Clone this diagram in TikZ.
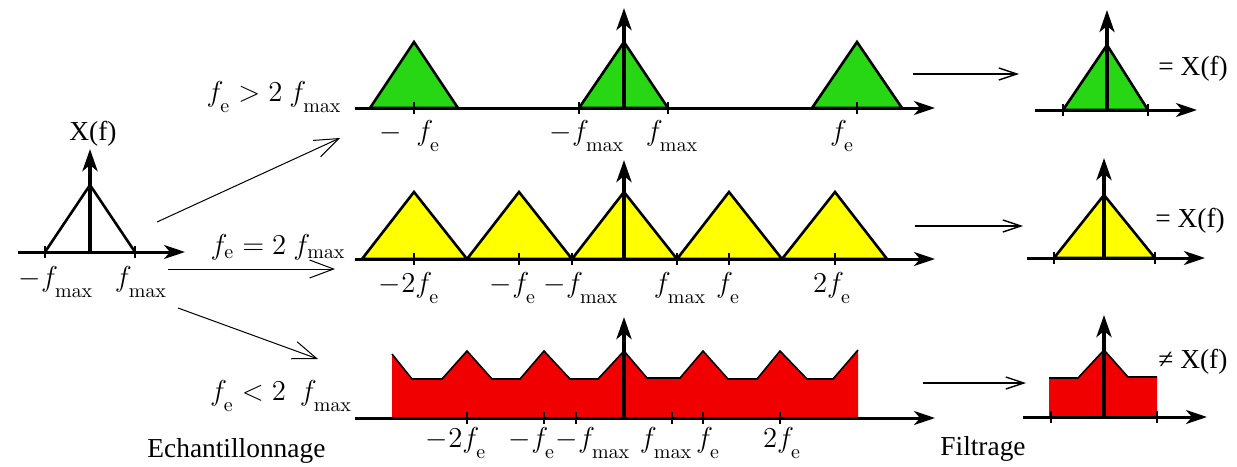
\documentclass[tikz,border=0pt]{standalone}
\usepackage[no-math]{fontspec}
\setmainfont{Liberation Serif}
\usepackage{amsmath}
\usetikzlibrary{arrows.meta}
\definecolor{vert}{RGB}{40,215,20}
\definecolor{jaune}{RGB}{255,255,0}
\definecolor{rouge}{RGB}{240,0,0}
\newcommand{\fs}[1]{f_{\raisebox{-0.25em}{$\scriptstyle\mathrm{#1}$}}}
\newcommand{\fn}[1]{f_{\mathrm{#1}}}
\tikzset{
  axe/.style={line width=1.5pt, arrows={-Stealth[length=10.5pt, width=7pt, inset=3pt]}},
  ordonnee/.style={line width=2.2pt, arrows={-Stealth[length=11pt, width=7.5pt, inset=3pt]}},
  spectre/.style={line width=1.3pt, line join=miter},
  bord/.style={line width=0.8pt},
  graduation/.style={line width=0.8pt},
  echant/.style={line width=0.5pt, arrows={-Straight Barb[length=12pt, width=9pt]}},
  filtre/.style={line width=0.7pt, arrows={-Straight Barb[length=9pt, width=6pt]}},
  lbl/.style={anchor=base, inner sep=0pt, font=\fontsize{14}{16}\selectfont},
  cond/.style={anchor=base, inner sep=0pt, font=\fontsize{14}{16}\selectfont},
  txt/.style={anchor=base, inner sep=0pt, font=\fontsize{13.7}{16}\selectfont}
}
\begin{document}
\begin{tikzpicture}[x=0.5pt, y=-0.5pt]
\useasboundingbox (0,0) rectangle (1237,466);

\draw[spectre] (45,252) -- (90,185) -- (135,252);
\draw[axe] (18,252) -- (185,252);
\draw[ordonnee, line width=2pt] (90,254) -- (90,149);
\draw[graduation] (45,246) -- (45,258) (135,246) -- (135,258);
\node[txt] (xf) at (93,140) {X(f)};
\node[lbl] (l01) at (56,286) {$-\fs{max}$};
\node[lbl] (l02) at (141,286) {$\fs{max}$};

\filldraw[spectre, fill=vert] (370,108) -- (414,42) -- (458,108) -- cycle;
\filldraw[spectre, fill=vert] (579,108) -- (624,42) -- (668,108) -- cycle;
\filldraw[spectre, fill=vert] (812,108) -- (857,42) -- (902,108) -- cycle;
\draw[axe] (355,108) -- (935,108);
\draw[graduation] (414,102) -- (414,114) (579,102) -- (579,114) (668,102) -- (668,114) (857,102) -- (857,114);
\draw[ordonnee] (624,110) -- (624,8);
\node[cond] (c1) at (274,101) {$\fs{e} > 2\ \fs{max}$};
\node[lbl] (l11) at (410,140) {$-\enskip\fs{e}$};
\node[lbl] (l12) at (587,140) {$-\fs{max}$};
\node[lbl] (l13) at (672,140) {$\fs{max}$};
\node[lbl] (l14) at (842,140) {$\fs{e}$};

\filldraw[spectre, fill=jaune] (362,259) -- (414,192) -- (467,259) -- cycle;
\filldraw[spectre, fill=jaune] (467,259) -- (519,192) -- (572,259) -- cycle;
\filldraw[spectre, fill=jaune] (572,259) -- (624,192) -- (677,259) -- cycle;
\filldraw[spectre, fill=jaune] (677,259) -- (729,192) -- (782,259) -- cycle;
\filldraw[spectre, fill=jaune] (782,259) -- (835,192) -- (887,259) -- cycle;
\draw[axe] (355,259) -- (935,259);
\draw[graduation] (414,253) -- (414,265) (519,253) -- (519,265) (572,253) -- (572,265) (677,253) -- (677,265) (729,253) -- (729,265) (835,253) -- (835,265);
\draw[ordonnee] (624,261) -- (624,160);
\node[cond] (c2) at (278,254) {$\fn{e} = 2\ \fn{max}$};
\node[lbl] (l21) at (409,292) {$-2\fs{e}$};
\node[lbl] (l22) at (513,292) {$-\fs{e}$};
\node[lbl] (l23) at (581,292) {$-\fs{max}$};
\node[lbl] (l24) at (680,292) {$\fs{max}$};
\node[lbl] (l25) at (728,292) {$\fs{e}$};
\node[lbl] (l26) at (832,292) {$2\fs{e}$};

\fill[rouge] (392,418) -- (392,354) -- (412,379) -- (442,379) -- (467,351) -- (492,379) -- (520,379) -- (544,351) -- (570,379) -- (598,379) -- (624,351) -- (647,378) -- (680,378) -- (703,351) -- (728,379) -- (757,379) -- (780,351) -- (807,379) -- (833,379) -- (858,350) -- (858,418) -- cycle;
\draw[bord] (392,354) -- (412,379) -- (442,379) -- (467,351) -- (492,379) -- (520,379) -- (544,351) -- (570,379) -- (598,379) -- (624,351) -- (647,378) -- (680,378) -- (703,351) -- (728,379) -- (757,379) -- (780,351) -- (807,379) -- (833,379) -- (858,350);
\draw[axe] (355,418) -- (935,418);
\draw[graduation] (467,412) -- (467,424) (544,412) -- (544,424) (576,412) -- (576,424) (672,412) -- (672,424) (703,412) -- (703,424) (780,412) -- (780,424);
\draw[ordonnee] (624,420) -- (624,317);
\node[cond] (c3) at (281,400) {$\fs{e} < 2\ \ \fs{max}$};
\node[lbl] (l31) at (456,447) {$-2\fs{e}$};
\node[lbl] (l32) at (532,447) {$-\fs{e}$};
\node[lbl] (l33) at (593,447) {$-\fs{max}$};
\node[lbl] (l34) at (666,447) {$\fs{max}$};
\node[lbl] (l35) at (708,447) {$\fs{e}$};
\node[lbl] (l36) at (782,447) {$2\fs{e}$};

\filldraw[spectre, fill=vert] (1063,110) -- (1107,45) -- (1148,110) -- cycle;
\draw[axe] (1035,110) -- (1197,110);
\draw[graduation] (1063,104) -- (1063,116) (1148,104) -- (1148,116);
\draw[ordonnee, line width=1.8pt] (1107,112) -- (1107,10);
\node[txt, anchor=base west] (r1) at (1158,75) {= X(f)};

\filldraw[spectre, fill=jaune] (1054,258) -- (1104,195) -- (1155,258) -- cycle;
\draw[axe] (1027,258) -- (1205,258);
\draw[graduation] (1054,252) -- (1054,264) (1155,252) -- (1155,264);
\draw[ordonnee] (1104,260) -- (1104,158);
\node[txt, anchor=base west] (r2) at (1155,227) {= X(f)};

\fill[rouge] (1049,417) -- (1049,378) -- (1078,378) -- (1104,350) -- (1128,377) -- (1157,377) -- (1157,417) -- cycle;
\draw[bord] (1049,378) -- (1078,378) -- (1104,350) -- (1128,377) -- (1157,377);
\draw[axe] (1023,417) -- (1207,417);
\draw[graduation] (1051,411) -- (1051,423) (1157,411) -- (1157,423);
\draw[ordonnee] (1104,419) -- (1104,315);
\node[txt, anchor=base west] (r3) at (1158,368) {≠ X(f)};

\coordinate (ea1) at (157,222);
\coordinate (eb1) at (340,138);
\coordinate (ea2) at (168,269);
\coordinate (eb2) at (335,269);
\coordinate (ea3) at (178,308);
\coordinate (eb3) at (318,359);
\draw[echant] (ea1) -- (eb1);
\draw[echant] (ea2) -- (eb2);
\draw[echant] (ea3) -- (eb3);

\coordinate (fa1) at (913,74);
\coordinate (fb1) at (1019,74);
\coordinate (fa2) at (915,226);
\coordinate (fb2) at (1023,226);
\coordinate (fa3) at (923,383);
\coordinate (fb3) at (1026,383);
\draw[filtre] (fa1) -- (fb1);
\draw[filtre] (fa2) -- (fb2);
\draw[filtre] (fa3) -- (fb3);

\node[txt, anchor=base west] (ech) at (147,457) {Echantillonnage};
\node[txt, anchor=base west] (fil) at (940,455) {Filtrage};
\end{tikzpicture}
\end{document}
